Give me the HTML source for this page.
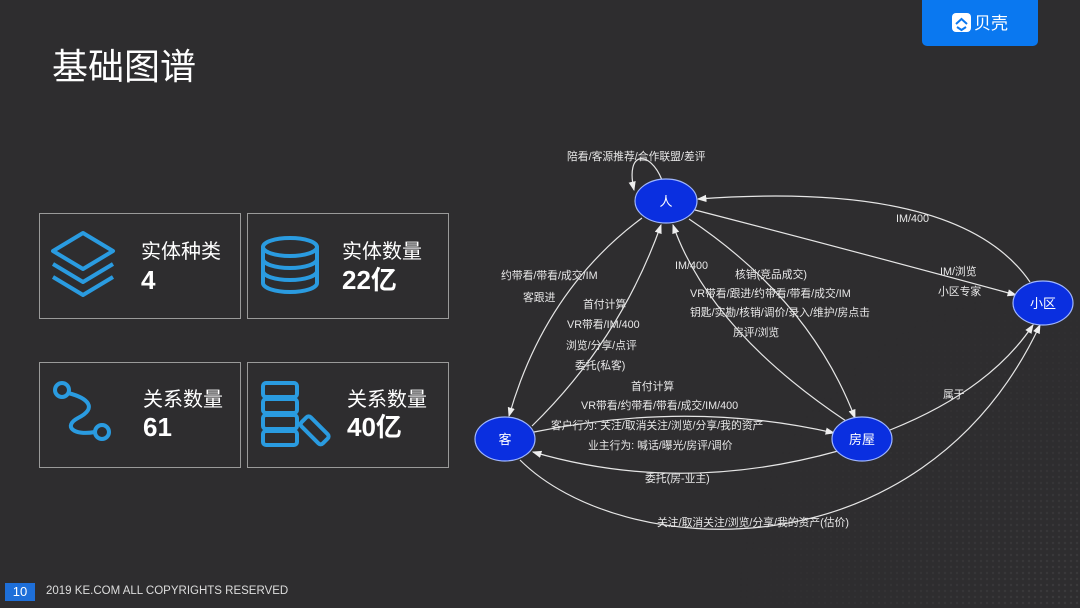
<!DOCTYPE html>
<html><head><meta charset="utf-8"><style>
body{margin:0;width:1080px;height:608px;overflow:hidden;background:#2e2d2f;font-family:"Liberation Sans","Noto Sans CJK SC",sans-serif;position:relative;color:#fff}
.t{position:absolute;left:52px;top:38px;font-size:36px;color:#fff}
.logo{position:absolute;left:922px;top:0;width:116px;height:46px;background:#0a78f0;border-radius:0 0 5px 5px}
.box{position:absolute;border:1.5px solid #9a9a9a;box-sizing:border-box;width:202px;height:106px}
.lab{position:absolute;font-size:20px;line-height:24px}
.num{position:absolute;font-size:26px;font-weight:bold;line-height:30px}
.ft{position:absolute;left:46px;top:585px;font-size:11.5px;color:#ddd}
.pg{position:absolute;left:5px;top:583px;width:30px;height:18px;background:#1e6fd9;font-size:13px;text-align:center;line-height:18px}
</style></head><body>
<div class="t">基础图谱</div>
<div class="logo"><svg width="116" height="46"><rect x="30" y="13" width="19" height="19" rx="4" fill="#fff"/><path d="M34 24 l5.5-5 5.5 5 M35 27 l4.5 3 4.5-3" stroke="#0a78f0" stroke-width="2" fill="none"/><text x="52" y="29" font-size="17" fill="#fff" font-family="Noto Sans CJK SC,sans-serif">贝壳</text></svg></div>

<div class="box" style="left:39px;top:213px"></div>
<div class="box" style="left:247px;top:213px"></div>
<div class="box" style="left:39px;top:362px"></div>
<div class="box" style="left:247px;top:362px"></div>
<div class="lab" style="left:141px;top:240px">实体种类</div><div class="num" style="left:141px;top:265px">4</div>
<div class="lab" style="left:342px;top:240px">实体数量</div><div class="num" style="left:342px;top:265px">22亿</div>
<div class="lab" style="left:143px;top:388px">关系数量</div><div class="num" style="left:143px;top:412px">61</div>
<div class="lab" style="left:347px;top:388px">关系数量</div><div class="num" style="left:347px;top:412px">40亿</div>

<svg style="position:absolute;left:0;top:0" width="1080" height="608">
<g fill="none" stroke="#2a9be0" stroke-width="4" stroke-linejoin="round">
<path d="M53 251 l30-18 30 18-30 18z"/><path d="M53 264 l30 18 30-18"/><path d="M53 277 l30 18 30-18"/>
<ellipse cx="290" cy="247" rx="27" ry="9"/><path d="M263 247 v36 a27 9 0 0 0 54 0 v-36 M263 259 a27 9 0 0 0 54 0 M263 271 a27 9 0 0 0 54 0"/>
<circle cx="62" cy="390" r="7"/><circle cx="102" cy="432" r="7"/><path d="M68 393 c20 5 30 15 10 25 c-15 8-5 18 17 14"/>
<rect x="263" y="383" width="34" height="14" rx="3"/><rect x="263" y="399" width="34" height="14" rx="3"/><rect x="263" y="415" width="34" height="14" rx="3"/><rect x="263" y="431" width="34" height="14" rx="3"/><rect x="300" y="424" width="30" height="13" rx="3" transform="rotate(45 315 430)"/>
</g>
<defs><marker id="a" markerWidth="8" markerHeight="8" refX="7" refY="4" orient="auto"><path d="M0 1 L8 4 L0 7z" fill="#eee"/></marker>
<pattern id="d" width="6" height="6" patternUnits="userSpaceOnUse"><circle cx="3" cy="3" r="1.2" fill="#3c3b3d"/></pattern>
<radialGradient id="g" cx="1" cy="1" r="0.9"><stop offset="0" stop-color="#fff" stop-opacity="1"/><stop offset="1" stop-color="#fff" stop-opacity="0"/></radialGradient>
<mask id="m"><rect x="700" y="250" width="380" height="358" fill="url(#g)"/></mask></defs>
<rect x="700" y="250" width="380" height="358" fill="url(#d)" mask="url(#m)"/>
<g fill="none" stroke="#e6e6e6" stroke-width="1.2" marker-end="url(#a)">
<path d="M662 180 C650 150 625 150 634 190"/>
<path d="M642 218 Q545 290 509 416"/>
<path d="M532 426 Q620 340 661 225"/>
<path d="M846 421 Q710 330 673 225"/>
<path d="M689 219 Q810 300 855 418"/>
<path d="M695 210 Q850 250 1016 295"/>
<path d="M1030 282 Q960 180 698 199"/>
<path d="M534 432 Q690 400 834 433"/>
<path d="M838 451 Q680 495 533 452"/>
<path d="M890 430 Q990 390 1033 325"/>
<path d="M520 460 C620 560 920 580 1040 325"/>
</g>
<g fill="#0a2fe0" stroke="#9fb6ff" stroke-width="1.2">
<ellipse cx="666" cy="201" rx="31" ry="22"/><ellipse cx="1043" cy="303" rx="30" ry="22"/><ellipse cx="505" cy="439" rx="30" ry="22"/><ellipse cx="862" cy="439" rx="30" ry="22"/></g>
<g fill="#fff" font-size="13" text-anchor="middle" font-family="Noto Sans CJK SC,sans-serif">
<text x="666" y="206">人</text><text x="1043" y="308">小区</text><text x="505" y="444">客</text><text x="862" y="444">房屋</text></g>
<g fill="#e8e8e8" font-size="10.8" font-family="Liberation Sans,Noto Sans CJK SC,sans-serif">
<text x="567" y="160">陪看/客源推荐/合作联盟/差评</text>
<text x="896" y="222">IM/400</text>
<text x="940" y="275">IM/浏览</text><text x="938" y="295">小区专家</text>
<text x="501" y="279">约带看/带看/成交/IM</text><text x="523" y="301">客跟进</text>
<text x="675" y="269">IM/400</text>
<text x="735" y="278">核销(竞品成交)</text>
<text x="690" y="297">VR带看/跟进/约带看/带看/成交/IM</text>
<text x="690" y="316">钥匙/实勘/核销/调价/录入/维护/房点击</text>
<text x="733" y="336">房评/浏览</text>
<text x="583" y="308">首付计算</text><text x="567" y="328">VR带看/IM/400</text><text x="566" y="349">浏览/分享/点评</text><text x="575" y="369">委托(私客)</text>
<text x="631" y="390">首付计算</text><text x="581" y="409">VR带看/约带看/带看/成交/IM/400</text>
<text x="551" y="429">客户行为: 关注/取消关注/浏览/分享/我的资产</text>
<text x="588" y="449">业主行为: 喊话/曝光/房评/调价</text>
<text x="645" y="482">委托(房-业主)</text>
<text x="943" y="398">属于</text>
<text x="657" y="526">关注/取消关注/浏览/分享/我的资产(估价)</text>
</g>
</svg>
<div class="pg">10</div>
<div class="ft">2019 KE.COM ALL COPYRIGHTS RESERVED</div>
</body></html>
